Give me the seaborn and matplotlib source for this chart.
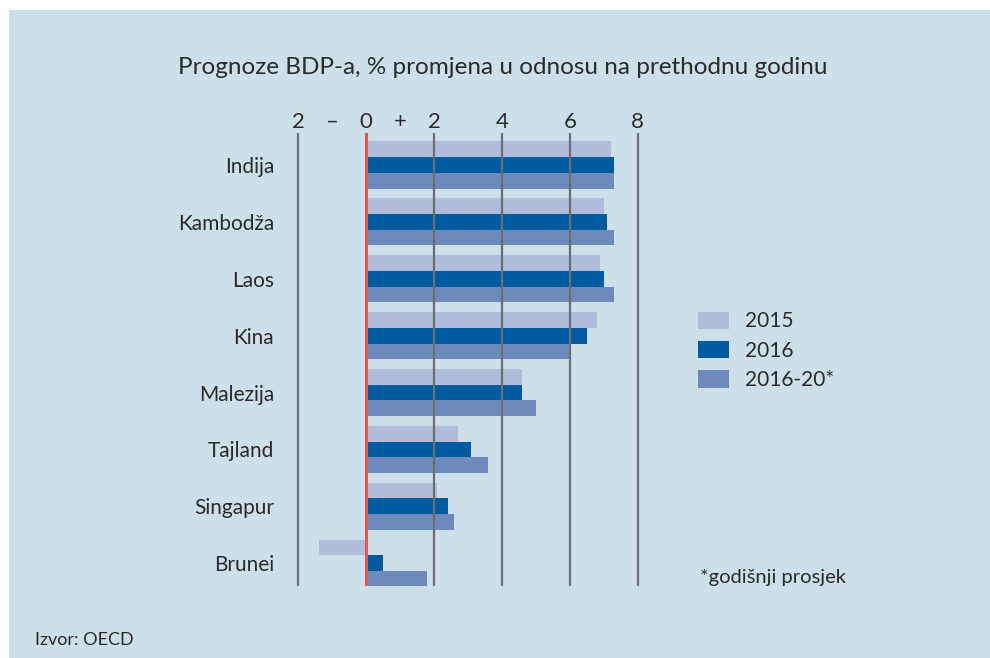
import pandas as pd
import matplotlib.pyplot as plt
import seaborn as sns
from matplotlib.patches import Rectangle

# Data
countries = ['Indija', 'Kambodža', 'Laos', 'Kina', 'Malezija', 'Tajland', 'Singapur', 'Brunei']
g2015 = [7.2, 7.0, 6.9, 6.8, 4.6, 2.7, 2.1, -1.4]
g2016 = [7.3, 7.1, 7.0, 6.5, 4.6, 3.1, 2.4, 0.5]
g2016_20 = [7.3, 7.3, 7.3, 6.0, 5.0, 3.6, 2.6, 1.8]
series = ['2015', '2016', '2016-20*']
tick_pos = [-2, -1, 0, 1, 2, 4, 6, 8]
tick_labels = ['2', '–', '0', '+', '2', '4', '6', '8']

colors = ['#b0bcda', '#005ba1', '#6e89bb']
bg = '#cddfe8'
txt = '#2b2b2b'

df = pd.DataFrame({
    'country': countries * 3,
    'value': g2015 + g2016 + g2016_20,
    'series': [s for s in series for _ in countries],
})

sns.set_style('white')
plt.rcParams['font.family'] = ['Lato', 'DejaVu Sans']

fig = plt.figure(figsize=(9.9, 6.58), dpi=100)
fig.patch.set_facecolor('white')
fig.patches.append(Rectangle((9 / 990, 0), 1, 648 / 658, transform=fig.transFigure,
                             facecolor=bg, edgecolor='none', zorder=-10))

ax = fig.add_axes([0.291, 0.1094, 0.3634, 0.6884])
ax.set_facecolor('none')

sns.barplot(data=df, y='country', x='value', hue='series', orient='h',
            palette=colors, width=0.83, saturation=1, ax=ax, errorbar=None,
            linewidth=0)

# vertical guide lines
for v in [-2, 2, 4, 6, 8]:
    ax.axvline(v, color='#6d6e71', lw=1.6, zorder=5)
ax.axvline(0, color='#e5564d', lw=2.2, zorder=6)

ax.set_xlim(-2.3, 8.3)
ax.set_ylim(7.4, -0.56)
ax.xaxis.tick_top()
ax.set_xticks(tick_pos)
ax.set_xticklabels(tick_labels, fontsize=16, color=txt)
ax.tick_params(axis='x', length=0, pad=1)
ax.tick_params(axis='y', length=0, pad=10, labelsize=15, labelcolor=txt)
ax.set_xlabel('')
ax.set_ylabel('')
for s in ax.spines.values():
    s.set_visible(False)

handles, labels = ax.get_legend_handles_labels()
ax.get_legend().remove()
fig.legend(handles, labels, loc='center left', bbox_to_anchor=(0.705, 0.467),
           frameon=False, fontsize=15, handlelength=1.5, handleheight=0.9,
           labelspacing=0.45, handletextpad=0.75, labelcolor=txt,
           borderaxespad=0, borderpad=0)

fig.text(0.508, 0.897, 'Prognoze BDP-a, % promjena u odnosu na prethodnu godinu',
         ha='center', va='center', fontsize=17.5, color=txt)
fig.text(700 / 990, 1 - 578 / 658, '*godišnji prosjek', ha='left', va='center',
         fontsize=14.5, color=txt)
fig.text(35 / 990, 1 - 640 / 658, 'Izvor: OECD', ha='left', va='center',
         fontsize=13, color=txt)

plt.savefig('out.png', dpi=100, facecolor=fig.get_facecolor())
